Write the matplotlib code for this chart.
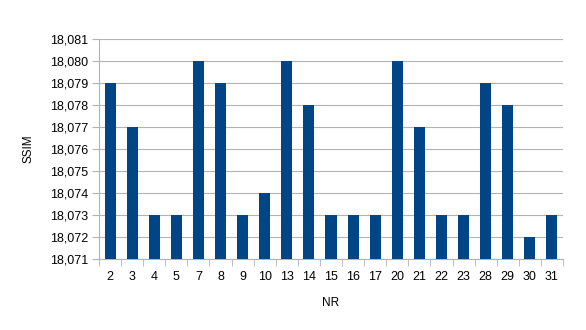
import numpy as np
import matplotlib.pyplot as plt
from matplotlib.ticker import FuncFormatter, FixedLocator

plt.rcParams['font.family'] = ['Liberation Sans', 'DejaVu Sans']

# NR categories and SSIM values
nr = ['2', '3', '4', '5', '7', '8', '9', '10', '13', '14', '15', '16', '17',
      '20', '21', '22', '23', '28', '29', '30', '31']
ssim = [18.079, 18.077, 18.073, 18.073, 18.080, 18.079, 18.073, 18.074,
        18.080, 18.078, 18.073, 18.073, 18.073, 18.080, 18.077, 18.073,
        18.073, 18.079, 18.078, 18.072, 18.073]
y_ticks = [18.071, 18.072, 18.073, 18.074, 18.075, 18.076, 18.077, 18.078,
           18.079, 18.080, 18.081]

fig = plt.figure(figsize=(5.86, 3.30), dpi=100)
ax = fig.add_axes([99 / 586, 1 - 259 / 330, (563 - 99) / 586, (259 - 39) / 330])

x = np.arange(len(nr))
ax.bar(x, ssim, width=0.5, color='#004586', zorder=3)

ax.set_xlim(-0.5, len(nr) - 0.5)
ax.set_ylim(y_ticks[0], y_ticks[-1])
ax.set_yticks(y_ticks)
ax.yaxis.set_major_formatter(FuncFormatter(lambda v, p: f'{v:.3f}'.replace('.', ',')))
ax.set_xticks(x)
ax.set_xticklabels(nr)
ax.xaxis.set_minor_locator(FixedLocator(np.arange(-0.5, len(nr), 1.0)))

ax.tick_params(axis='x', which='major', length=0, pad=9, labelsize=9)
ax.tick_params(axis='x', which='minor', length=5, color='#b3b3b3')
ax.tick_params(axis='y', length=5, color='#b3b3b3', labelsize=9, pad=3)

ax.grid(axis='y', color='#b3b3b3', linewidth=0.8, zorder=0)
for s in ['top', 'right']:
    ax.spines[s].set_visible(False)
for s in ['left', 'bottom']:
    ax.spines[s].set_color('#b3b3b3')

ax.set_ylabel('SSIM', fontsize=8.5, labelpad=11)
ax.set_xlabel('NR', fontsize=8.5, labelpad=10)

fig.savefig('out.png', dpi=100)
